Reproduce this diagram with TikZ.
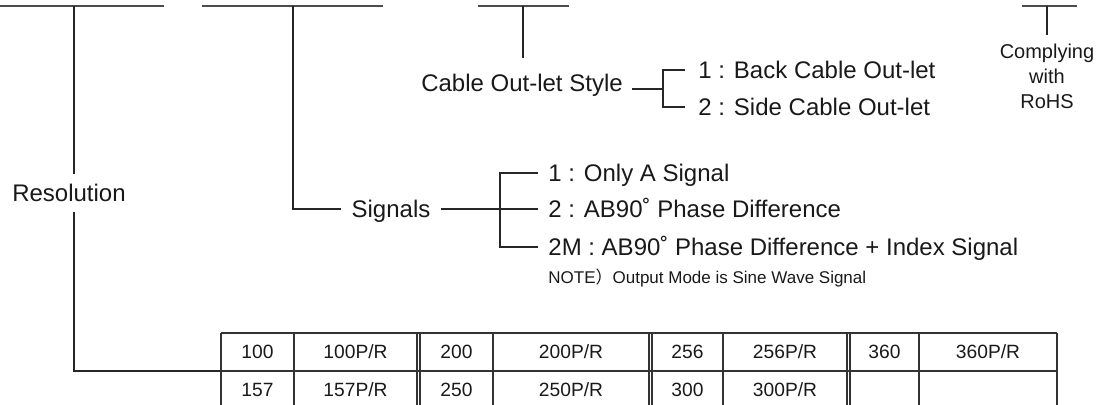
\documentclass[tikz,border=0pt]{standalone}
\usepackage{fontspec}
\setmainfont{Liberation Sans}
\newfontfamily\cjk{Noto Sans CJK SC}
\usepackage{tikz}

\begin{document}
\begin{tikzpicture}[x=0.5pt,y=-0.5pt,
  wire/.style={black!85,line width=0.6pt},
  field/.style={black!70,line width=0.9pt},
  grid/.style={black!80,line width=0.6pt},
  lbl/.style={text=black!90,font=\fontsize{12}{14}\selectfont,text height=8.6pt,text depth=0pt,inner sep=0pt},
  opt/.style={lbl,anchor=west,inner xsep=5pt},
  cell/.style={text=black!90,font=\fontsize{9.6}{11}\selectfont,inner sep=0pt}]
\useasboundingbox (0,0) rectangle (1096,405);
% code fields
\draw[field] (0,6) -- (164,6);
\draw[field] (202,6) -- (383,6);
\draw[field] (478,6) -- (569,6);
\draw[field] (1022,6) -- (1077,6);
\coordinate (f1) at (74,6);
\coordinate (f2) at (293,6);
\coordinate (f3) at (523,6);
\coordinate (f4) at (1047,6);
% resolution
\node[lbl,inner ysep=5pt] (res) at (69,193) {Resolution};
\coordinate (tab) at (221,371);
\draw[wire] (f1) -- (f1 |- res.north);
\draw[wire] (f1 |- res.south) |- (tab);
% signals
\node[lbl,inner xsep=5pt] (sig) at (391,209) {Signals};
\coordinate (sigbr) at (500,209);
\draw[wire] (f2) |- (sig.west);
\draw[wire] (sig.east) -- (sigbr);
\node[opt] (s1) at (538,173) {1 : Only A Signal};
\node[opt] (s2) at (538,209) {2 : AB90˚ Phase Difference};
\node[opt] (s3) at (538,247) {2M : AB90˚ Phase Difference + Index Signal};
\draw[wire] (s1.west) -| (sigbr) |- (s3.west);
\draw[wire] (sigbr) -- (s2.west);
\node[anchor=west,inner sep=0pt,text=black!90,font=\fontsize{8.5}{10}\selectfont] (note) at (548,278) {NOTE{\cjk ）}Output Mode is Sine Wave Signal};
% cable out-let
\node[lbl,inner xsep=4.5pt,inner ysep=8pt] (cab) at (522,83) {Cable Out-let Style};
\coordinate (cabbr) at (663,89);
\draw[wire] (f3) -- (f3 |- cab.north);
\draw[wire] (cab.east |- cabbr) -- (cabbr);
\node[opt,inner xsep=6.5pt] (c1) at (685,70) {1 : Back Cable Out-let};
\node[opt,inner xsep=6.5pt] (c2) at (685,107) {2 : Side Cable Out-let};
\draw[wire] (c1.west) -| (cabbr) |- (c2.west);
% rohs
\node[text=black!90,font=\fontsize{10}{12.5}\selectfont,align=center,anchor=north,inner sep=4.5pt] (rohs) at (1047,35) {Complying\\with\\RoHS};
\draw[wire] (f4) -- (rohs.north);
% table
\draw[grid] (221,333) -- (1057,333);
\draw[grid] (221,371) -- (1057,371);
\draw[grid] (221,333) -- (221,405);
\draw[grid] (294,333) -- (294,405);
\draw[grid] (417,333) -- (417,405);
\draw[grid] (420,333) -- (420,405);
\draw[grid] (493,333) -- (493,405);
\draw[grid] (649,333) -- (649,405);
\draw[grid] (652,333) -- (652,405);
\draw[grid] (723,333) -- (723,405);
\draw[grid] (847,333) -- (847,405);
\draw[grid] (850,333) -- (850,405);
\draw[grid] (919,333) -- (919,405);
\draw[grid] (1057,333) -- (1057,405);
\node[cell] (a1) at (257.5,352) {100};
\node[cell] (a2) at (355.5,352) {100P/R};
\node[cell] (a3) at (456.5,352) {200};
\node[cell] (a4) at (571,352) {200P/R};
\node[cell] (a5) at (687.5,352) {256};
\node[cell] (a6) at (785,352) {256P/R};
\node[cell] (a7) at (884.5,352) {360};
\node[cell] (a8) at (988,352) {360P/R};
\node[cell] (b1) at (257.5,390) {157};
\node[cell] (b2) at (355.5,390) {157P/R};
\node[cell] (b3) at (456.5,390) {250};
\node[cell] (b4) at (571,390) {250P/R};
\node[cell] (b5) at (687.5,390) {300};
\node[cell] (b6) at (785,390) {300P/R};
\end{tikzpicture}
\end{document}
